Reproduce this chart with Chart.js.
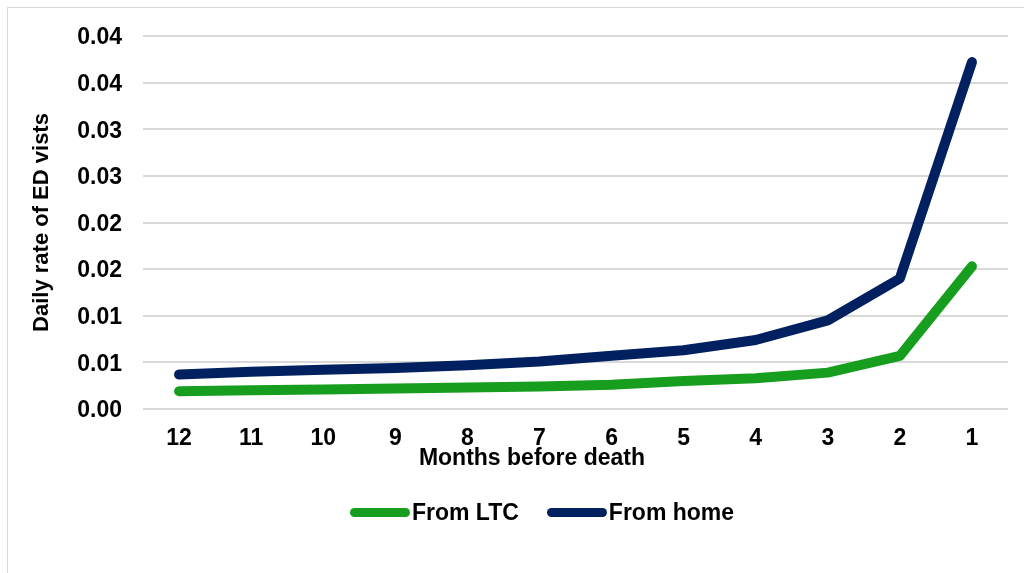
<!DOCTYPE html>
<html>
<head>
<meta charset="utf-8">
<script src="https://cdn.jsdelivr.net/npm/chart.js@4"></script>
<style>
    body { margin: 0; width: 1024px; height: 573px; overflow: hidden; background: #fff; font-family: "Liberation Sans", Arial, sans-serif; }
    #frame { position: absolute; left: 7px; top: 7px; width: 1100px; height: 620px; border: 1px solid #d9d9d9; }
    #stats { position: absolute; left: 0; top: 0; }
    #xTitle { position: absolute; left: 232px; top: 446px; width: 600px; text-align: center; font-weight: bold; font-size: 23px; line-height: 23px; color: #000; }
    #legend { position: absolute; left: 242px; top: 499px; width: 600px; display: flex; justify-content: center; align-items: center; font-weight: bold; font-size: 23px; line-height: 26px; color: #000; }
    .item { display: flex; align-items: center; margin: 0 14px; }
    .swatch { width: 60px; height: 9px; border-radius: 5px; margin-right: 2px; }
</style>
</head>
<body>
<div id="frame"></div>
<canvas id="stats" width="1024" height="573"></canvas>
<div id="xTitle"></div>
<div id="legend"></div>
<script>
// Values
const months = ['12', '11', '10', '9', '8', '7', '6', '5', '4', '3', '2', '1']
const fromLTC = [0.0019, 0.0020, 0.0021, 0.0022, 0.0023, 0.0024, 0.0026, 0.0030, 0.0033, 0.0039, 0.0057, 0.0153]
const fromHome = [0.0037, 0.0040, 0.0042, 0.0044, 0.0047, 0.0051, 0.0057, 0.0063, 0.0074, 0.0095, 0.0140, 0.0372]
const yTickLabels = ['0.00', '0.01', '0.01', '0.02', '0.02', '0.03', '0.03', '0.04', '0.04']
const xTitle = 'Months before death'
const yTitle = 'Daily rate of ED vists'

const seriesNames = ['From LTC', 'From home']
const seriesColors = ['#189e1e', '#002060']

const ctx = document.getElementById('stats')
const boldFont = { family: '"Liberation Sans", Arial, sans-serif', size: 23, weight: 'bold' }

new Chart(ctx, {
    type: 'line',
    data: {
        labels: months,
        datasets: [fromLTC, fromHome].map((values, i) => ({
            label: seriesNames[i],
            data: values,
            borderColor: seriesColors[i],
            backgroundColor: seriesColors[i],
            borderWidth: 10,
            borderCapStyle: 'round',
            borderJoinStyle: 'round',
            pointRadius: 0,
            tension: 0
        }))
    },
    options: {
        responsive: false,
        devicePixelRatio: 1,
        animation: false,
        layout: { padding: { left: 0, top: 36, right: 16, bottom: 119 } },
        plugins: {
            legend: { display: false },
            tooltip: { enabled: false }
        },
        scales: {
            x: {
                offset: true,
                grid: { display: false, drawTicks: false },
                border: { display: false },
                ticks: { color: '#000', font: boldFont, padding: 16, maxRotation: 0 },
                afterFit: (scale) => { scale.height = 45 }
            },
            y: {
                min: 0,
                max: 0.04,
                grid: { color: '#d9d9d9', lineWidth: 2, drawTicks: false },
                border: { display: false },
                ticks: {
                    stepSize: 0.005,
                    color: '#000',
                    font: boldFont,
                    padding: 21,
                    labelOffset: 2,
                    callback: (value, index) => yTickLabels[index]
                },
                title: {
                    display: true,
                    text: yTitle,
                    color: '#000',
                    font: { family: boldFont.family, size: 22, weight: 'bold' },
                    padding: { top: 29, bottom: 0 }
                },
                afterFit: (scale) => { scale.width = 143 }
            }
        }
    }
})

// Axis title and legend below the plot
document.getElementById('xTitle').textContent = xTitle
const legend = document.getElementById('legend')
seriesNames.forEach((name, i) => {
    const item = document.createElement('div')
    item.className = 'item'
    const swatch = document.createElement('span')
    swatch.className = 'swatch'
    swatch.style.background = seriesColors[i]
    const text = document.createElement('span')
    text.textContent = name
    item.appendChild(swatch)
    item.appendChild(text)
    legend.appendChild(item)
})
</script>
</body>
</html>
